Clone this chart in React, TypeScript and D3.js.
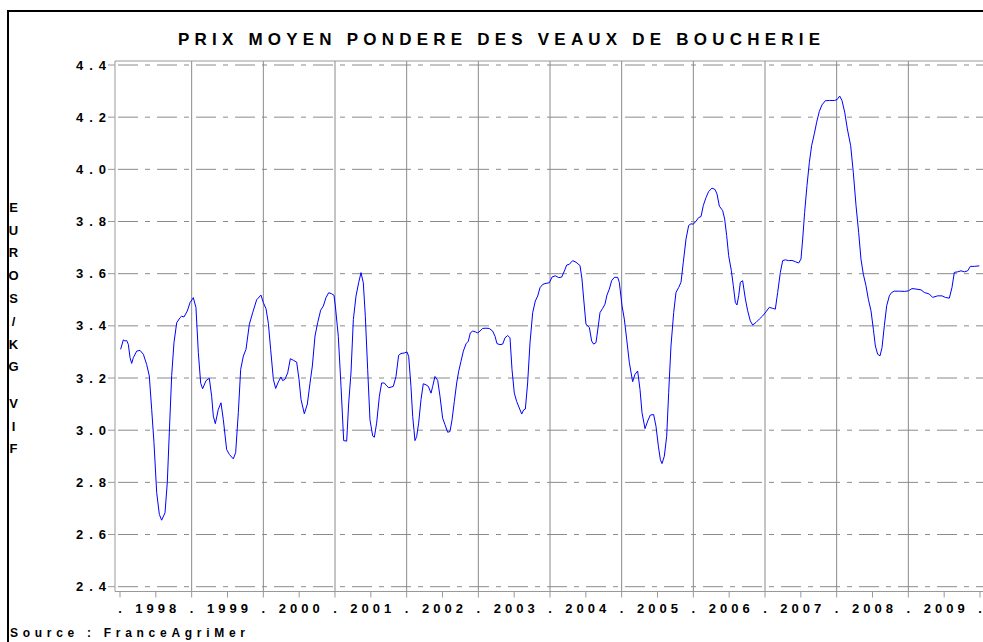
import React from 'react';
import * as d3 from 'd3';

const chartTitle = 'PRIX MOYEN PONDERE DES VEAUX DE BOUCHERIE';
const yAxisLabel = ['E', 'U', 'R', 'O', 'S', '/', 'K', 'G', ' ', 'V', 'I', 'F'];
const sourceText = 'Source : FranceAgriMer';
const yearLabels = [1998, 1999, 2000, 2001, 2002, 2003, 2004, 2005, 2006, 2007, 2008, 2009];
const yTicks = [2.4, 2.6, 2.8, 3.0, 3.2, 3.4, 3.6, 3.8, 4.0, 4.2, 4.4];

// [decimal year, price EUR/kg]
const prices1998to2000: [number, number][] = [
  [1998.009, 3.31], [1998.046, 3.346], [1998.07, 3.342], [1998.093, 3.344], [1998.116, 3.329],
  [1998.14, 3.278], [1998.163, 3.256], [1998.186, 3.278], [1998.233, 3.303], [1998.279, 3.306],
  [1998.326, 3.291], [1998.372, 3.252], [1998.409, 3.208], [1998.442, 3.08], [1998.474, 2.952],
  [1998.512, 2.76], [1998.549, 2.677], [1998.581, 2.655], [1998.628, 2.683], [1998.66, 2.8],
  [1998.688, 2.99], [1998.721, 3.21], [1998.753, 3.335], [1998.791, 3.412], [1998.837, 3.431],
  [1998.86, 3.437], [1998.893, 3.434], [1998.939, 3.457], [1998.977, 3.489], [1999.023, 3.508],
  [1999.06, 3.47], [1999.093, 3.297], [1999.126, 3.18], [1999.153, 3.159], [1999.2, 3.19],
  [1999.246, 3.199], [1999.279, 3.13], [1999.302, 3.054], [1999.33, 3.025], [1999.372, 3.08],
  [1999.409, 3.105], [1999.442, 3.04], [1999.488, 2.926], [1999.526, 2.907], [1999.581, 2.89],
  [1999.614, 2.914], [1999.651, 3.067], [1999.684, 3.233], [1999.721, 3.284], [1999.758, 3.31],
  [1999.805, 3.406], [1999.851, 3.45], [1999.907, 3.5], [1999.967, 3.518], [2000.0, 3.489],
  [2000.037, 3.466], [2000.07, 3.41], [2000.102, 3.31], [2000.14, 3.195], [2000.172, 3.16],
  [2000.209, 3.185], [2000.246, 3.204], [2000.27, 3.19], [2000.302, 3.195], [2000.34, 3.22],
  [2000.377, 3.274], [2000.419, 3.268], [2000.465, 3.261], [2000.498, 3.195], [2000.526, 3.118],
  [2000.572, 3.063], [2000.614, 3.1], [2000.651, 3.18], [2000.684, 3.246], [2000.721, 3.361],
  [2000.758, 3.412], [2000.8, 3.46], [2000.837, 3.476], [2000.874, 3.508], [2000.912, 3.527],
  [2000.954, 3.523], [2000.986, 3.517],
];

const prices2001to2003: [number, number][] = [
  [2001.005, 3.476], [2001.046, 3.36], [2001.084, 3.168], [2001.121, 2.96], [2001.163, 2.958],
  [2001.191, 3.104], [2001.223, 3.219], [2001.256, 3.424], [2001.293, 3.514], [2001.33, 3.565],
  [2001.363, 3.604], [2001.395, 3.565], [2001.423, 3.437], [2001.456, 3.232], [2001.488, 3.04],
  [2001.526, 2.978], [2001.549, 2.973], [2001.581, 3.027], [2001.619, 3.13], [2001.651, 3.181],
  [2001.688, 3.181], [2001.721, 3.17], [2001.749, 3.163], [2001.781, 3.165], [2001.814, 3.168],
  [2001.851, 3.206], [2001.888, 3.287], [2001.921, 3.294], [2001.967, 3.296], [2002.005, 3.3],
  [2002.028, 3.283], [2002.06, 3.168], [2002.084, 3.053], [2002.116, 2.96], [2002.14, 2.976],
  [2002.167, 3.027], [2002.2, 3.117], [2002.232, 3.178], [2002.27, 3.174], [2002.302, 3.168],
  [2002.34, 3.142], [2002.363, 3.168], [2002.395, 3.206], [2002.433, 3.191], [2002.465, 3.13],
  [2002.502, 3.046], [2002.535, 3.021], [2002.572, 2.992], [2002.605, 2.995], [2002.633, 3.04],
  [2002.665, 3.11], [2002.698, 3.181], [2002.726, 3.226], [2002.758, 3.264], [2002.791, 3.303],
  [2002.828, 3.331], [2002.86, 3.341], [2002.888, 3.373], [2002.921, 3.38], [2002.958, 3.377],
  [2002.991, 3.373], [2003.023, 3.38], [2003.06, 3.39], [2003.107, 3.391], [2003.153, 3.39],
  [2003.2, 3.38], [2003.233, 3.36], [2003.26, 3.332], [2003.302, 3.328], [2003.34, 3.33],
  [2003.372, 3.354], [2003.409, 3.363], [2003.442, 3.354], [2003.47, 3.232], [2003.502, 3.142],
  [2003.535, 3.11], [2003.572, 3.085], [2003.605, 3.062], [2003.633, 3.078], [2003.656, 3.081],
  [2003.688, 3.181], [2003.721, 3.335], [2003.758, 3.45], [2003.795, 3.495], [2003.828, 3.514],
  [2003.86, 3.546], [2003.898, 3.559], [2003.944, 3.563], [2003.991, 3.565],
];

const prices2004to2006: [number, number][] = [
  [2004.028, 3.587], [2004.074, 3.592], [2004.121, 3.585], [2004.163, 3.587], [2004.2, 3.61],
  [2004.233, 3.633], [2004.27, 3.636], [2004.316, 3.65], [2004.363, 3.644], [2004.419, 3.631],
  [2004.446, 3.58], [2004.47, 3.503], [2004.502, 3.406], [2004.549, 3.394], [2004.581, 3.342],
  [2004.609, 3.33], [2004.642, 3.336], [2004.674, 3.4], [2004.698, 3.451], [2004.735, 3.467],
  [2004.767, 3.483], [2004.795, 3.518], [2004.828, 3.541], [2004.86, 3.573], [2004.898, 3.586],
  [2004.944, 3.586], [2004.967, 3.567], [2005.005, 3.477], [2005.037, 3.426], [2005.07, 3.349],
  [2005.107, 3.259], [2005.153, 3.186], [2005.186, 3.214], [2005.223, 3.227], [2005.256, 3.156],
  [2005.284, 3.067], [2005.326, 3.006], [2005.363, 3.035], [2005.4, 3.058], [2005.446, 3.06],
  [2005.479, 3.015], [2005.512, 2.939], [2005.54, 2.887], [2005.563, 2.872], [2005.595, 2.9],
  [2005.628, 2.977], [2005.656, 3.144], [2005.688, 3.323], [2005.726, 3.451], [2005.758, 3.528],
  [2005.795, 3.547], [2005.828, 3.567], [2005.86, 3.644], [2005.898, 3.733], [2005.935, 3.785],
  [2005.967, 3.791], [2006.0, 3.79], [2006.037, 3.801], [2006.074, 3.815], [2006.107, 3.819],
  [2006.14, 3.862], [2006.177, 3.892], [2006.214, 3.915], [2006.26, 3.928], [2006.302, 3.923],
  [2006.33, 3.906], [2006.363, 3.859], [2006.409, 3.842], [2006.437, 3.81], [2006.465, 3.746],
  [2006.493, 3.669], [2006.53, 3.612], [2006.558, 3.554], [2006.586, 3.49], [2006.609, 3.48],
  [2006.633, 3.515], [2006.656, 3.567], [2006.688, 3.573], [2006.726, 3.503], [2006.758, 3.458],
  [2006.795, 3.419], [2006.828, 3.403], [2006.874, 3.413], [2006.921, 3.426], [2006.967, 3.438],
];

const prices2007to2009: [number, number][] = [
  [2007.014, 3.454], [2007.06, 3.471], [2007.107, 3.467], [2007.144, 3.464], [2007.177, 3.528],
  [2007.214, 3.605], [2007.247, 3.65], [2007.284, 3.653], [2007.33, 3.65], [2007.377, 3.651],
  [2007.423, 3.646], [2007.47, 3.641], [2007.502, 3.656], [2007.526, 3.733], [2007.553, 3.835],
  [2007.586, 3.938], [2007.619, 4.027], [2007.651, 4.091], [2007.688, 4.136], [2007.721, 4.181],
  [2007.758, 4.222], [2007.795, 4.247], [2007.842, 4.263], [2007.898, 4.264], [2007.967, 4.264],
  [2008.005, 4.267], [2008.042, 4.281], [2008.074, 4.264], [2008.112, 4.219], [2008.149, 4.155],
  [2008.195, 4.091], [2008.232, 3.989], [2008.27, 3.861], [2008.307, 3.758], [2008.339, 3.656],
  [2008.372, 3.598], [2008.409, 3.554], [2008.442, 3.502], [2008.479, 3.458], [2008.512, 3.387],
  [2008.54, 3.323], [2008.572, 3.291], [2008.605, 3.285], [2008.633, 3.317], [2008.665, 3.4],
  [2008.698, 3.477], [2008.735, 3.515], [2008.767, 3.528], [2008.805, 3.533], [2008.874, 3.533],
  [2008.944, 3.532], [2009.0, 3.534], [2009.051, 3.543], [2009.107, 3.541], [2009.177, 3.538],
  [2009.223, 3.528], [2009.293, 3.522], [2009.339, 3.509], [2009.409, 3.515], [2009.47, 3.515],
  [2009.516, 3.509], [2009.572, 3.506], [2009.609, 3.547], [2009.642, 3.605], [2009.688, 3.607],
  [2009.735, 3.611], [2009.781, 3.607], [2009.828, 3.611], [2009.865, 3.628], [2009.921, 3.628],
  [2009.991, 3.63],
];

export default function App() {
  const W = 983;
  const H = 642;
  const plotLeft = 115;
  const plotTop = 61;
  const plotBottom = 591.5;
  const plotRight = 1000;

  const x = d3.scaleLinear().domain([1998, 2010]).range([120, 980]);
  const y = d3.scaleLinear().domain([2.4, 4.4]).range([586.7, 65]);

  const data = [...prices1998to2000, ...prices2001to2003, ...prices2004to2006, ...prices2007to2009];
  const line = d3
    .line<[number, number]>()
    .x((d) => x(d[0]))
    .y((d) => y(d[1]));

  const halfYearTicks = d3.range(0, 25).map((i) => 1998 + i * 0.5);
  const yearBoundaries = d3.range(1998, 2011);
  const gridYears = d3.range(1999, 2010);

  const font = "'Liberation Sans', Arial, sans-serif";
  const gridColor = '#8a8a8a';

  let cy = 207;
  const labelPos = yAxisLabel.map((ch) => {
    const p = cy;
    cy += ch === ' ' ? 13.6 : 22.8;
    return p;
  });

  return (
    <svg
      width={W}
      height={H}
      style={{ position: 'absolute', left: 0, top: 0, background: '#fff' }}
      fontFamily={font}
    >
      <rect x={0} y={0} width={W} height={H} fill="#fff" />
      <rect x={8} y={11} width={1000} height={700} fill="none" stroke="#000" strokeWidth={2} />

      <text x={178} y={44.5} fontSize={17} fontWeight="bold" textLength={642} lengthAdjust="spacing">
        {chartTitle}
      </text>

      {yTicks.map((v) => (
        <line
          key={'h' + v}
          x1={plotLeft}
          x2={plotRight}
          y1={y(v)}
          y2={y(v)}
          stroke={gridColor}
          strokeWidth={1}
          strokeDasharray="20 7 5 7"
          strokeDashoffset={-3}
        />
      ))}

      {gridYears.map((yr) => (
        <line
          key={'v' + yr}
          x1={x(yr)}
          x2={x(yr)}
          y1={plotTop}
          y2={plotBottom}
          stroke={gridColor}
          strokeWidth={1}
        />
      ))}

      <line x1={plotLeft} x2={plotRight} y1={plotTop} y2={plotTop} stroke="#999" strokeWidth={1} />
      <line x1={plotLeft} x2={plotLeft} y1={plotTop} y2={plotBottom} stroke="#999" strokeWidth={1} />
      <line x1={plotLeft} x2={plotRight} y1={plotBottom} y2={plotBottom} stroke="#999" strokeWidth={1} />

      {yTicks.map((v) => (
        <g key={'yt' + v}>
          <line x1={108} x2={plotLeft} y1={y(v)} y2={y(v)} stroke="#999" strokeWidth={1} />
          <text
            x={106}
            y={y(v) + 4.6}
            fontSize={13}
            fontWeight="bold"
            textAnchor="end"
            textLength={30}
            lengthAdjust="spacing"
          >
            {v.toFixed(1).replace('.', ' . ')}
          </text>
        </g>
      ))}

      {halfYearTicks.map((t) => (
        <line key={'xt' + t} x1={x(t)} x2={x(t)} y1={plotBottom} y2={plotBottom + 6} stroke="#999" strokeWidth={1} />
      ))}

      {yearLabels.map((yr) => (
        <text
          key={'yl' + yr}
          x={x(yr + 0.5) - 20.5}
          y={612.5}
          fontSize={13}
          fontWeight="bold"
          textLength={41}
          lengthAdjust="spacing"
        >
          {String(yr)}
        </text>
      ))}
      {yearBoundaries.map((yr) => (
        <text key={'dot' + yr} x={x(yr)} y={612.5} fontSize={13} fontWeight="bold" textAnchor="middle">
          .
        </text>
      ))}

      {yAxisLabel.map((ch, i) =>
        ch === ' ' ? null : (
          <text
            key={'yl' + i}
            x={13.5}
            y={labelPos[i] + 4.7}
            fontSize={13}
            fontWeight="bold"
            textAnchor="middle"
          >
            {ch}
          </text>
        )
      )}

      <path d={line(data) || ''} fill="none" stroke="#0000ff" strokeWidth={1} />

      <text x={10} y={636.5} fontSize={12} fontWeight="bold" textLength={235} lengthAdjust="spacing">
        {sourceText}
      </text>
    </svg>
  );
}
